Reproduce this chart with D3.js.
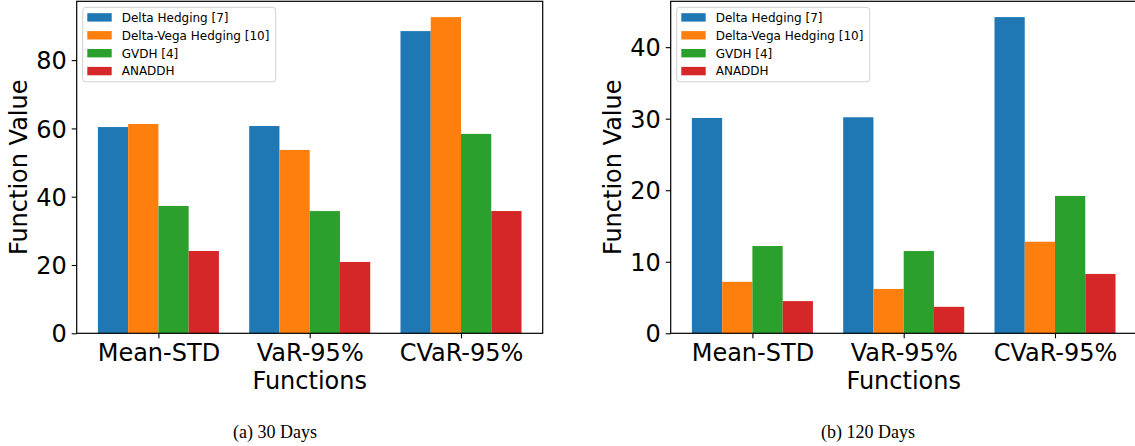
<!DOCTYPE html>
<html>
<head>
<meta charset="utf-8">
<script src="https://cdn.jsdelivr.net/npm/d3@7"></script>
<style>
  html, body { margin: 0; padding: 0; background: #fff; }
  svg { display: block; }
</style>
</head>
<body>
<svg id="chart" width="1135" height="446"></svg>
<script>
// ---- data ----
const categories = ["Mean-STD", "VaR-95%", "CVaR-95%"];
const seriesNames = ["Delta Hedging [7]", "Delta-Vega Hedging [10]", "GVDH [4]", "ANADDH"];
const seriesColors = ["#1f77b4", "#ff7f0e", "#2ca02c", "#d62728"];

// 30 days
const dh30 = [60.4, 60.7, 88.5];
const dvh30 = [61.3, 53.7, 92.6];
const gvdh30 = [37.3, 35.8, 58.4];
const anaddh30 = [24.1, 20.9, 35.8];
const ticks30 = [0, 20, 40, 60, 80];

// 120 days
const dh120 = [30.1, 30.2, 44.2];
const dvh120 = [7.2, 6.2, 12.8];
const gvdh120 = [12.2, 11.5, 19.2];
const anaddh120 = [4.5, 3.7, 8.3];
const ticks120 = [0, 10, 20, 30, 40];

const xLabel = "Functions";
const yLabel = "Function Value";
const captions = ["(a) 30 Days", "(b) 120 Days"];

// ---- drawing ----
(function () {
const svg = d3.select("#chart");
const panels = [
  { left: 76.7, series: [dh30, dvh30, gvdh30, anaddh30], ticks: ticks30, caption: captions[0], capX: 275 },
  { left: 670.7, series: [dh120, dvh120, gvdh120, anaddh120], ticks: ticks120, caption: captions[1], capX: 868 }
];
const plotTop = 1.3, plotBottom = 333.3, plotW = 466;
const barW = 0.2;

panels.forEach(p => {
  const g = svg.append("g");
  const x = d3.scaleLinear().domain([-0.54, 2.54]).range([p.left, p.left + plotW]);
  const maxV = d3.max(p.series.flat());
  const y = d3.scaleLinear().domain([0, maxV * 1.05]).range([plotBottom, plotTop]);

  // bars
  p.series.forEach((vals, j) => {
    g.append("g").selectAll("rect").data(vals).join("rect")
      .attr("x", (d, i) => x(i + (j - 1.5) * barW - barW / 2))
      .attr("width", x(barW) - x(0))
      .attr("y", d => y(d))
      .attr("height", d => y(0) - y(d))
      .attr("fill", seriesColors[j]);
  });

  // y axis
  const yAxis = d3.axisLeft(y).tickValues(p.ticks).tickFormat(d3.format("d")).tickSize(5).tickPadding(5);
  const ya = g.append("g").attr("transform", `translate(${p.left},0)`).call(yAxis);
  ya.select(".domain").remove();
  ya.selectAll("text").attr("font-family", "DejaVu Sans").attr("font-size", 24).attr("fill", "#000").attr("dy", "0.36em");
  ya.selectAll("line").attr("stroke", "#000").attr("stroke-width", 1.1);

  // x axis
  const xAxis = d3.axisBottom(x).tickValues([0, 1, 2]).tickFormat(i => categories[i]).tickSize(5).tickPadding(6);
  const xa = g.append("g").attr("transform", `translate(0,${plotBottom})`).call(xAxis);
  xa.select(".domain").remove();
  xa.selectAll("text").attr("font-family", "DejaVu Sans").attr("font-size", 24).attr("fill", "#000").attr("dy", null).attr("y", 27.7);
  xa.selectAll("line").attr("stroke", "#000").attr("stroke-width", 1.1);

  // frame
  g.append("rect").attr("x", p.left).attr("y", plotTop).attr("width", plotW).attr("height", plotBottom - plotTop)
    .attr("fill", "none").attr("stroke", "#000").attr("stroke-width", 1.2);

  // axis labels
  g.append("text").attr("x", p.left + plotW / 2).attr("y", 389)
    .attr("text-anchor", "middle").attr("font-family", "DejaVu Sans").attr("font-size", 24).attr("fill", "#000")
    .text(xLabel);
  g.append("text")
    .attr("transform", `translate(${p.left - 49.5},${(plotTop + plotBottom) / 2}) rotate(-90)`)
    .attr("text-anchor", "middle").attr("font-family", "DejaVu Sans").attr("font-size", 24).attr("fill", "#000")
    .text(yLabel);

  // legend
  const lg = g.append("g").attr("transform", `translate(${p.left + 6},7.3)`);
  lg.append("rect").attr("width", 193).attr("height", 74.5).attr("rx", 3)
    .attr("fill", "#fff").attr("fill-opacity", 0.8).attr("stroke", "#d0d0d0").attr("stroke-width", 1);
  seriesNames.forEach((name, j) => {
    const cy = 10.1 + j * 17.9;
    lg.append("rect").attr("x", 4.6).attr("y", cy - 4.2).attr("width", 24.4).attr("height", 8.4).attr("fill", seriesColors[j]);
    lg.append("text").attr("x", 39).attr("y", cy).attr("dy", "0.36em")
      .attr("font-family", "DejaVu Sans").attr("font-size", 12).attr("fill", "#000").text(name);
  });

  // caption
  svg.append("text").attr("x", p.capX).attr("y", 437.7).attr("text-anchor", "middle")
    .attr("font-family", "Liberation Serif").attr("font-size", 18).attr("fill", "#000").text(p.caption);
});
})();
</script>
</body>
</html>
